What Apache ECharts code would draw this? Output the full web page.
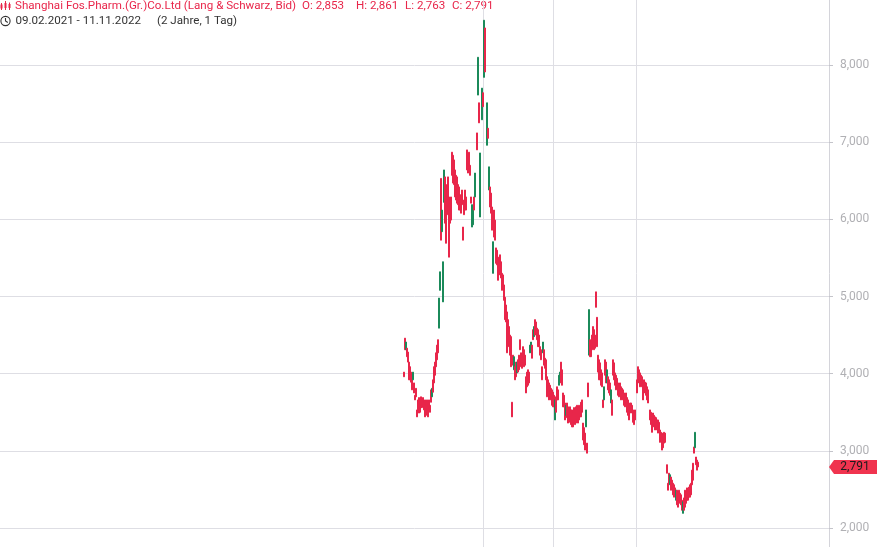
<!DOCTYPE html>
<html><head><meta charset="utf-8">
<script src="https://cdn.jsdelivr.net/npm/echarts/dist/echarts.min.js"></script>
<style>html,body{margin:0;padding:0;background:#fff}#chart{width:877px;height:547px}</style>
</head><body><div id="chart"></div><script>
// Day offsets counted from 09.02.2021 (day 0); 11.11.2022 is day 640
const startLabel = '09.02.2021';
const endLabel = '11.11.2022';
const days = [
1,3,5,8,10,12,14,16,19,21,
23,25,27,29,32,34,36,38,40,42,
45,47,49,51,53,55,58,60,62,64,
66,69,71,73,75,77,79,82,84,86,
88,90,93,95,97,99,101,103,106,108,
110,112,114,116,119,121,123,125,127,130,
132,134,136,138,140,143,145,147,149,151,
153,156,160,162,164,167,171,173,175,177,
182,184,186,188,190,193,195,197,199,201,
204,206,208,210,212,214,217,219,221,223,
225,227,230,232,234,236,238,241,243,245,
247,249,251,254,256,258,260,262,264,267,
269,271,273,275,278,280,282,284,286,288,
291,293,295,297,299,301,304,306,308,310,
312,315,317,319,321,323,325,328,330,332,
334,336,338,341,343,345,347,349,352,354,
356,358,360,362,365,367,369,371,373,375,
378,380,382,384,386,389,391,393,395,397,
399,402,404,406,408,410,413,415,417,419,
421,423,426,428,430,432,434,436,439,441,
443,445,447,450,452,454,456,458,460,463,
465,467,469,471,473,476,478,480,482,484,
487,489,491,493,495,497,500,502,504,508,
510,513,515,517,519,521,524,526,528,530,
532,537,539,541,543,545,547,550,552,554,
556,558,561,563,565,567,569,574,576,578,
580,582,584,587,589,591,593,595,598,600,
602,604,606,608,611,613,615,617,619,621,
624,626,628,630,632,635,637,639,640
];
const opens = [
4020,4460,4310,4330,4280,4150,4090,4020,3920,3920,
3880,3720,3810,3530,3660,3690,3630,3700,3660,3690,
3630,3660,3590,3660,3590,3660,3590,3790,3700,3920,
4090,4150,4270,4370,4440,4590,5080,6530,5840,4930,
6220,6550,6380,6450,6550,6290,6250,6290,6870,6830,
6770,6640,6570,6550,6450,6420,6320,6290,6380,5900,
6250,6380,6290,6900,6830,6870,6700,6290,5900,5930,
6290,6290,7120,7610,7510,6030,7290,7640,7840,8480,
6960,7180,6380,6420,6340,6160,5300,6120,5990,5630,
5600,5510,5470,5540,5450,5300,5280,5150,4990,4890,
4800,4700,4610,4500,4480,3630,4240,4050,4090,4150,
4010,4180,4240,4440,4270,4240,4350,4310,4240,3960,
4020,4050,4020,4270,4280,4370,4570,4480,4700,4670,
4590,4570,4500,4350,4310,4090,4270,4310,4200,4180,
3960,3920,3880,3850,3810,3790,3760,3720,3400,3700,
3830,3790,3850,3920,4150,4050,3750,3720,3620,3460,
3620,3570,3530,3570,3530,3530,3500,3560,3530,3570,
3590,3530,3590,3570,3630,3660,3360,3300,3230,3310,
3100,3880,4240,4440,4370,4500,4610,4570,4500,5060,
4730,4240,4180,4140,4050,4010,3660,3660,4180,4150,
3880,3960,3920,3880,3620,3660,4180,4140,4010,3980,
3940,3880,3850,3880,3830,3810,3790,3750,3720,3750,
3690,3660,3570,3620,3620,3590,3530,3500,3530,3920,
4090,4050,4010,3980,3960,3880,3920,3890,3880,3830,
3790,3530,3500,3440,3490,3460,3440,3430,3400,3400,
3370,3270,3240,3230,3210,3240,3230,2820,2580,2710,
2560,2660,2620,2580,2560,2520,2360,2490,2470,2490,
2450,2430,2360,2190,2390,2490,2470,2520,2490,2530,
2560,2580,2750,2840,3050,3040,2920,2880,2853
];
const closes = [
3960,4310,4410,4220,4150,3920,3920,3890,3790,4020,
3750,3660,3700,3440,3530,3490,3500,3560,3560,3580,
3530,3440,3460,3500,3440,3530,3500,3630,3810,3760,
3880,3980,4090,4180,4270,4980,5320,5730,6120,5450,
6640,5950,5690,6060,6120,5510,5950,5990,6570,6470,
6450,6290,6250,6210,6190,6120,6120,6080,6190,5730,
6060,6120,6120,6640,6600,6660,6570,6210,6190,6120,
6120,6600,6900,8100,7250,6860,7700,7460,8580,7910,
7510,7050,6680,6160,6080,5860,5710,5770,5730,5430,
5410,5210,5280,5340,5240,5080,5110,4950,4700,4670,
4270,4370,4350,4240,4090,3440,4110,4220,3920,3960,
4150,4020,4050,4310,4090,4070,4150,4090,4110,3750,
3830,3850,3880,4370,4410,4200,4440,4610,4500,4530,
4440,4350,4350,4240,4180,3920,4410,4110,4070,3920,
3700,3760,3660,3690,3660,3590,3570,3570,3660,3500,
3660,3660,3980,4020,3880,3850,3570,3570,3400,3590,
3430,3360,3370,3400,3340,3310,3310,3370,3340,3360,
3400,3360,3400,3440,3440,3500,3140,3080,3010,3530,
2970,3700,4830,4220,4220,4310,4370,4310,4330,4860,
4350,4020,3920,3920,3850,3830,3560,3830,3980,3880,
4050,3790,3750,3720,3790,3460,3980,3920,3850,3790,
3810,3720,3700,3750,3660,3690,3660,3590,3570,3620,
3500,3460,3400,3490,3500,3490,3370,3340,3400,3750,
3880,3920,3830,3850,3830,3660,3750,3760,3720,3660,
3620,3400,3340,3240,3340,3310,3270,3300,3270,3230,
3240,3110,3140,3010,3040,3100,3110,2710,2490,2580,
2690,2490,2520,2430,2400,2430,2490,2300,2270,2360,
2320,2300,2230,2340,2230,2270,2320,2360,2360,2400,
2400,2430,2560,2620,2970,3240,2820,2750,2791
];
const lows = [
3960,4310,4310,4220,4150,3920,3920,3890,3790,3920,
3750,3660,3700,3440,3530,3490,3500,3560,3560,3580,
3530,3440,3460,3500,3440,3530,3500,3630,3700,3760,
3880,3980,4090,4180,4270,4590,5080,5730,5840,4930,
6220,5950,5690,6060,6120,5510,5950,5990,6570,6470,
6450,6290,6250,6210,6190,6120,6120,6080,6190,5730,
6060,6120,6120,6640,6600,6660,6570,6210,5900,5930,
6120,6290,6900,7610,7250,6030,7290,7460,7840,7910,
6960,7050,6380,6160,6080,5860,5300,5770,5730,5430,
5410,5210,5280,5340,5240,5080,5110,4950,4700,4670,
4270,4370,4350,4240,4090,3440,4110,4050,3920,3960,
4010,4020,4050,4310,4090,4070,4150,4090,4110,3750,
3830,3850,3880,4270,4280,4200,4440,4480,4500,4530,
4440,4350,4350,4240,4180,3920,4270,4110,4070,3920,
3700,3760,3660,3690,3660,3590,3570,3570,3400,3500,
3660,3660,3850,3920,3880,3850,3570,3570,3400,3460,
3430,3360,3370,3400,3340,3310,3310,3370,3340,3360,
3400,3360,3400,3440,3440,3500,3140,3080,3010,3310,
2970,3700,4240,4220,4220,4310,4370,4310,4330,4860,
4350,4020,3920,3920,3850,3830,3560,3660,3980,3880,
3880,3790,3750,3720,3620,3460,3980,3920,3850,3790,
3810,3720,3700,3750,3660,3690,3660,3590,3570,3620,
3500,3460,3400,3490,3500,3490,3370,3340,3400,3750,
3880,3920,3830,3850,3830,3660,3750,3760,3720,3660,
3620,3400,3340,3240,3340,3310,3270,3300,3270,3230,
3240,3110,3140,3010,3040,3100,3110,2710,2490,2580,
2560,2490,2520,2430,2400,2430,2360,2300,2270,2360,
2320,2300,2230,2190,2230,2270,2320,2360,2360,2400,
2400,2430,2560,2620,2970,3040,2820,2750,2763
];
const highs = [
4020,4460,4410,4330,4280,4150,4090,4020,3920,4020,
3880,3720,3810,3530,3660,3690,3630,3700,3660,3690,
3630,3660,3590,3660,3590,3660,3590,3790,3810,3920,
4090,4150,4270,4370,4440,4980,5320,6530,6120,5450,
6640,6550,6380,6450,6550,6290,6250,6290,6870,6830,
6770,6640,6570,6550,6450,6420,6320,6290,6380,5900,
6250,6380,6290,6900,6830,6870,6700,6290,6190,6120,
6290,6600,7120,8100,7510,6860,7700,7640,8580,8480,
7510,7180,6680,6420,6340,6160,5710,6120,5990,5630,
5600,5510,5470,5540,5450,5300,5280,5150,4990,4890,
4800,4700,4610,4500,4480,3630,4240,4220,4090,4150,
4150,4180,4240,4440,4270,4240,4350,4310,4240,3960,
4020,4050,4020,4370,4410,4370,4570,4610,4700,4670,
4590,4570,4500,4350,4310,4090,4410,4310,4200,4180,
3960,3920,3880,3850,3810,3790,3760,3720,3660,3700,
3830,3790,3980,4020,4150,4050,3750,3720,3620,3590,
3620,3570,3530,3570,3530,3530,3500,3560,3530,3570,
3590,3530,3590,3570,3630,3660,3360,3300,3230,3530,
3100,3880,4830,4440,4370,4500,4610,4570,4500,5060,
4730,4240,4180,4140,4050,4010,3660,3830,4180,4150,
4050,3960,3920,3880,3790,3660,4180,4140,4010,3980,
3940,3880,3850,3880,3830,3810,3790,3750,3720,3750,
3690,3660,3570,3620,3620,3590,3530,3500,3530,3920,
4090,4050,4010,3980,3960,3880,3920,3890,3880,3830,
3790,3530,3500,3440,3490,3460,3440,3430,3400,3400,
3370,3270,3240,3230,3210,3240,3230,2820,2580,2710,
2690,2660,2620,2580,2560,2520,2490,2490,2470,2490,
2450,2430,2360,2340,2390,2490,2470,2520,2490,2530,
2560,2580,2750,2840,3050,3240,2920,2880,2861
];
const priceTicks = [1000,2000,3000,4000,5000,6000,7000,8000,9000];
const verticalGridDays = [174, 326, 507];
const titleText = 'Shanghai Fos.Pharm.(Gr.)Co.Ltd (Lang & Schwarz, Bid)';
const quoteLabels = ['O: 2,853', 'H: 2,861', 'L: 2,763', 'C: 2,791'];
const rangeText = startLabel + ' - ' + endLabel;
const rangeNote = '(2 Jahre, 1 Tag)';
const lastClose = closes[closes.length - 1];

const RED = '#e8264a';
const GREEN = '#1b8a5a';
const GRID = '#dedee4';
const FONT = 'Roboto, "Noto Sans", sans-serif';

// x range: empty space before the first and after the last trading day
const xMin = -878.4, xMax = 926.2;

const source = days.map((d, i) => [d, opens[i], closes[i], lows[i], highs[i]]);
const fmt = v => Number(v).toLocaleString('en-US');

const chart = echarts.init(document.getElementById('chart'), null, {renderer: 'canvas'});
const quoteX = [302, 356, 405, 452];
chart.setOption({
  animation: false,
  backgroundColor: '#ffffff',
  grid: {left: 0, right: 48, top: -12.17, bottom: -58.17, containLabel: false, outerBoundsMode: 'none'},
  dataset: {source: source},
  xAxis: {type: 'value', min: xMin, max: xMax, show: false, splitLine: {show: false}},
  yAxis: {
    type: 'value', position: 'right',
    min: priceTicks[0], max: priceTicks[priceTicks.length - 1], interval: 1000,
    axisLine: {show: true, onZero: false, lineStyle: {color: '#d4d4da', width: 1}},
    axisTick: {show: true, length: 4, lineStyle: {color: '#c4c4ca'}},
    axisLabel: {show: true, margin: 11, color: '#b0b0b4', fontSize: 12, fontFamily: FONT, formatter: fmt},
    splitLine: {show: true, lineStyle: {color: GRID, width: 1}}
  },
  series: [{
    type: 'candlestick',
    encode: {x: 0, y: [1, 2, 3, 4]},
    barWidth: 1.5,
    itemStyle: {color: GREEN, color0: RED, borderColor: GREEN, borderColor0: RED, borderWidth: 1},
    markLine: {
      silent: true, z: 1, symbol: ['none', 'none'], label: {show: false},
      lineStyle: {color: GRID, width: 1, type: 'solid'},
      data: verticalGridDays.map(d => ({xAxis: d})),
      animation: false
    },
    markPoint: {
      silent: true, z: 10,
      symbol: 'path://M0,7L5,0L48,0L48,14L5,14Z',
      symbolSize: [48, 14], symbolKeepAspect: false, symbolOffset: [24, 0],
      itemStyle: {color: '#f0344f'},
      label: {show: true, position: 'inside', offset: [2, 0], color: '#1c1c1c', fontSize: 12, fontFamily: FONT, formatter: p => fmt(p.value)},
      data: [{coord: [xMax, lastClose], value: lastClose}],
      animation: false
    }
  }],
  graphic: [
    {type: 'line', shape: {x1: 1.5, y1: 3, x2: 1.5, y2: 10}, style: {stroke: RED, lineWidth: 1}},
    {type: 'rect', shape: {x: 0.5, y: 4.5, width: 2, height: 4}, style: {fill: RED}},
    {type: 'line', shape: {x1: 5.5, y1: 1, x2: 5.5, y2: 10}, style: {stroke: RED, lineWidth: 1}},
    {type: 'rect', shape: {x: 4.5, y: 3, width: 2, height: 5}, style: {fill: RED}},
    {type: 'line', shape: {x1: 9.5, y1: 2.5, x2: 9.5, y2: 10}, style: {stroke: RED, lineWidth: 1}},
    {type: 'rect', shape: {x: 8.5, y: 4, width: 2, height: 4}, style: {fill: RED}},
    {type: 'circle', shape: {cx: 5.5, cy: 21, r: 4.6}, style: {fill: 'none', stroke: '#333', lineWidth: 1.1}},
    {type: 'polyline', shape: {points: [[5.5, 18], [5.5, 21], [7.8, 22.5]]}, style: {fill: 'none', stroke: '#333', lineWidth: 1.1}},
    {type: 'text', x: 15, y: 6, style: {text: titleText, fill: RED, font: '11.6px ' + FONT, textVerticalAlign: 'middle', verticalAlign: 'middle'}},
  ].concat(quoteLabels.map((t, i) => ({
    type: 'text', x: quoteX[i], y: 6,
    style: {text: t, fill: RED, font: '11.6px ' + FONT, textVerticalAlign: 'middle', verticalAlign: 'middle'}
  }))).concat([
    {type: 'text', x: 15.5, y: 21, style: {text: rangeText, fill: '#333', font: '11.6px ' + FONT, textVerticalAlign: 'middle', verticalAlign: 'middle'}},
    {type: 'text', x: 157, y: 21, style: {text: rangeNote, fill: '#333', font: '11.6px ' + FONT, textVerticalAlign: 'middle', verticalAlign: 'middle'}}
  ])
});
</script></body></html>
